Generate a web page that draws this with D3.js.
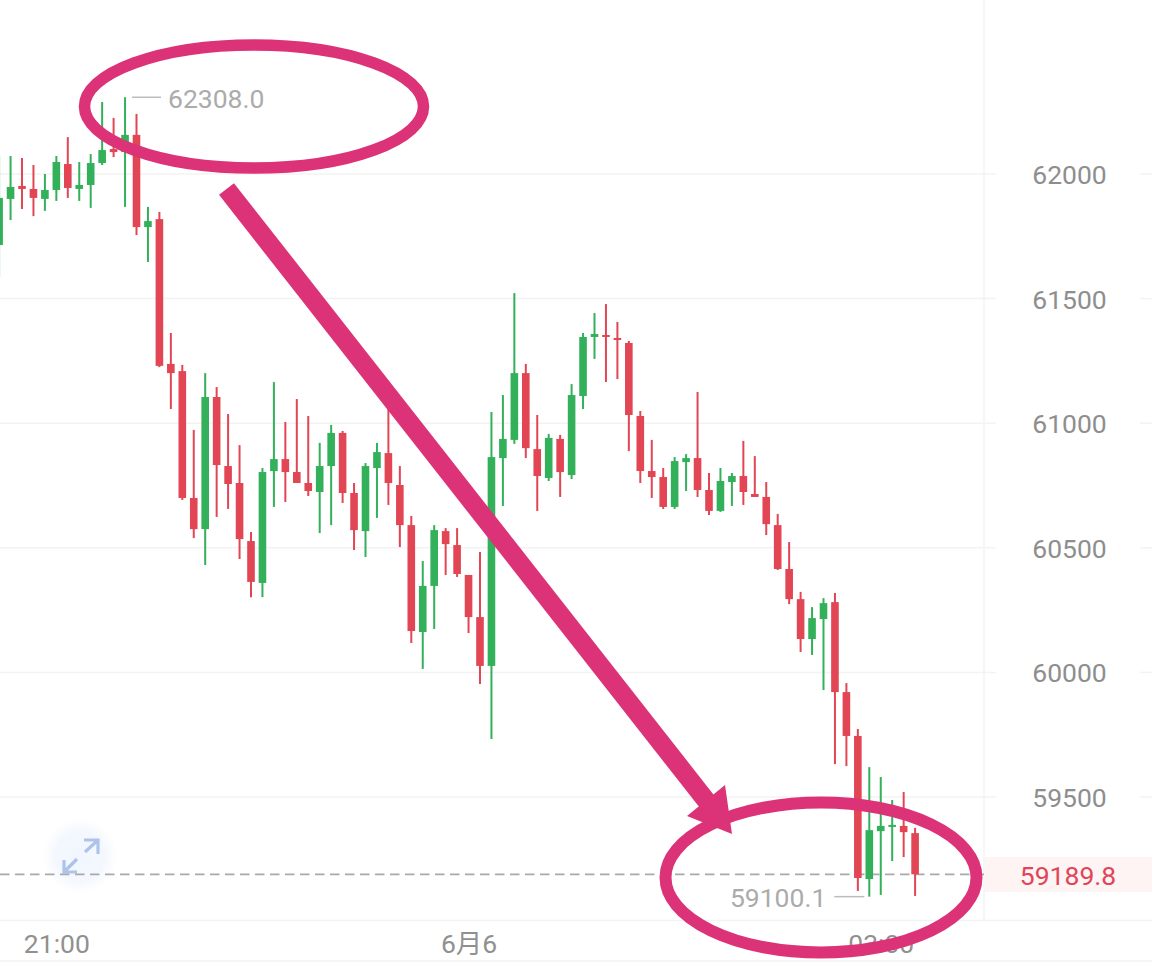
<!DOCTYPE html>
<html lang="zh">
<head>
<meta charset="utf-8">
<title>5分钟K线</title>
<script src="https://cdn.jsdelivr.net/npm/d3@7/dist/d3.min.js"></script>
<style>
  html, body { margin: 0; padding: 0; background: #fff; }
  svg { display: block; }
  text { font-family: Roboto, "Noto Sans CJK SC", sans-serif; }
</style>
</head>
<body>
<svg id="chart" width="1152" height="962"></svg>
<script>
// Five-minute candles, oldest first
const opens = [61715,61900,61952,61940,61900,61936,62040,61940,61956,62044,62100,62088,62157,61787,61819,61238,61209,60700,60575,61105,60828,60760,60527,60359,60808,60856,60804,60760,60724,60828,60961,60720,60567,60820,60880,60752,60591,60162,60347,60567,60511,60391,60222,60026,60860,60933,61201,60896,60780,60937,60792,61109,61346,61354,61342,61322,61029,60808,60784,60664,60844,60860,60732,60648,60764,60788,60716,60704,60591,60415,60294,60134,60214,60282,59921,59745,59171,59363,59384,59384,59355];
const highs = [62072,62072,62064,62036,62000,62072,62148,62048,62080,62289,62225,62308,62241,61868,61848,61362,61234,60973,61201,61145,61037,60912,60563,60820,61165,61005,61097,61029,60921,60993,60969,60760,60840,60921,61061,60828,60628,60447,60591,60579,60579,60391,60483,61045,61113,61522,61238,61033,60957,60953,61157,61362,61442,61478,61406,61330,61049,60933,60820,60864,60876,61125,60800,60820,60800,60929,60868,60764,60636,60523,60323,60262,60298,60319,59957,59773,59620,59580,59488,59520,59376];
const lows = [61587,61815,61860,61831,61852,61892,61904,61892,61864,62036,62068,61868,61755,61647,61225,61057,60692,60539,60431,60624,60656,60455,60302,60302,60664,60684,60760,60708,60559,60591,60680,60491,60463,60620,60672,60503,60118,60014,60174,60391,60383,60158,59953,59733,60668,60917,60860,60648,60768,60704,60776,61057,61258,61165,61177,60888,60760,60700,60656,60656,60728,60704,60632,60644,60668,60672,60704,60551,60411,60274,60082,60070,59929,59632,59624,59123,59100.1,59107,59243,59259,59103];
const closes = [61904,61948,61940,61904,61936,62048,61944,61956,62044,62096,62088,62157,61787,61811,61230,61201,60700,60575,61105,60832,60756,60535,60363,60804,60856,60804,60760,60728,60828,60961,60720,60571,60828,60884,60760,60591,60166,60347,60571,60515,60395,60222,60026,60864,60937,61201,60900,60788,60941,60804,61113,61346,61358,61346,61334,61033,60808,60784,60664,60848,60860,60732,60648,60768,60788,60724,60704,60595,60415,60294,60134,60218,60278,59921,59745,59175,59367,59384,59388,59359,59189.8];

const priceTicks = [62000, 61500, 61000, 60500, 60000, 59500];
const timeTicks = [new Date(2024, 5, 5, 21, 0), new Date(2024, 5, 6, 0, 0), new Date(2024, 5, 6, 3, 0)];
const timeTickLabels = ["21:00", "6月6", "03:00"];
const firstCandle = new Date(2024, 5, 5, 20, 35);
const candleMinutes = 5;
const lastPrice = 59189.8;
const periodHigh = 62308.0;
const periodLow = 59100.1;

const times = opens.map((_, i) => d3.timeMinute.offset(firstCandle, i * candleMinutes));
const candles = times.map((t, i) => ({ t, o: opens[i], h: highs[i], l: lows[i], c: closes[i] }));

const RED = "#e24553", GREEN = "#33b05a", PINK = "#dc3378";
const FONT = 26.5;
const plotRight = 984;

const x = d3.scaleTime().domain([firstCandle, times[times.length - 1]]).range([-0.9, 915.1]);
const y = d3.scaleLinear().domain([62000, 59500]).range([174, 797]);

const svg = d3.select("#chart");

// Grid: horizontal rules stop short of the price labels and resume after them
const grid = svg.append("g").attr("stroke", "#f3f3f3").attr("stroke-width", 1.5);
grid.selectAll("line.left").data(priceTicks).join("line").attr("class", "left")
  .attr("x1", 0).attr("x2", 996).attr("y1", d => y(d)).attr("y2", d => y(d));
grid.selectAll("line.right").data(priceTicks).join("line").attr("class", "right")
  .attr("x1", 1140).attr("x2", 1152).attr("y1", d => y(d)).attr("y2", d => y(d));
grid.append("line").attr("x1", plotRight).attr("x2", plotRight).attr("y1", 0).attr("y2", 920);
grid.append("line").attr("x1", 0).attr("x2", 1152).attr("y1", 920.5).attr("y2", 920.5);
grid.append("line").attr("x1", 0).attr("x2", 1152).attr("y1", 961).attr("y2", 961);

// Band behind the latest price
svg.append("rect").attr("x", plotRight + 1).attr("width", 1152 - plotRight - 1)
  .attr("y", y(lastPrice) - 17.5).attr("height", 35).attr("fill", "#fdf4f3");

// Expand control
const glowDef = svg.append("defs").append("radialGradient").attr("id", "expandGlow");
glowDef.append("stop").attr("offset", "0%").attr("stop-color", "#f1f6fe");
glowDef.append("stop").attr("offset", "65%").attr("stop-color", "#f4f8fe");
glowDef.append("stop").attr("offset", "100%").attr("stop-color", "#ffffff");
const expand = svg.append("g").attr("transform", "translate(80,856)");
expand.append("circle").attr("r", 38).attr("fill", "url(#expandGlow)");
expand.append("path").attr("fill", "none").attr("stroke", "#aec3ea").attr("stroke-width", 3.2)
  .attr("d", "M5,-4L17,-15M4,-16H18V-2M-3,3L-15,15M-16,4V16H-3");

// Latest price line
svg.append("line").attr("x1", 0).attr("x2", plotRight).attr("y1", y(lastPrice)).attr("y2", y(lastPrice))
  .attr("stroke", "#a9a9a9").attr("stroke-width", 1.8).attr("stroke-dasharray", "9.5,5.5");

// Candles
const bodyWidth = 7.6;
const candle = svg.append("g").selectAll("g").data(candles).join("g")
  .attr("fill", d => d.c >= d.o ? GREEN : RED)
  .attr("stroke", d => d.c >= d.o ? GREEN : RED);
candle.append("line").attr("stroke-width", 2)
  .attr("x1", d => x(d.t)).attr("x2", d => x(d.t))
  .attr("y1", d => y(d.h)).attr("y2", d => y(d.l));
candle.append("rect").attr("stroke", "none")
  .attr("x", d => x(d.t) - bodyWidth / 2).attr("width", bodyWidth)
  .attr("y", d => y(Math.max(d.o, d.c)))
  .attr("height", d => Math.max(2, Math.abs(y(d.o) - y(d.c))));

// Axes
const yAxis = d3.axisRight(y).tickValues(priceTicks).tickSize(0).tickPadding(0).tickFormat(d3.format("d"));
const yG = svg.append("g").attr("transform", "translate(1069.5,0)").call(yAxis);
yG.select(".domain").remove();
yG.selectAll("text").attr("text-anchor", "middle").attr("fill", "#8e8e8e")
  .attr("font-size", FONT).attr("font-family", null).attr("dy", "0.36em");

const xAxis = d3.axisBottom(x).tickValues(timeTicks).tickSize(0).tickPadding(0)
  .tickFormat((d, i) => timeTickLabels[i]);
const xG = svg.append("g").attr("transform", "translate(0,943)").call(xAxis);
xG.select(".domain").remove();
xG.selectAll("text").attr("fill", "#909090").attr("font-size", FONT).attr("font-family", null)
  .attr("y", 0).attr("dy", "0.36em");

// Latest price label
svg.append("text").attr("x", 1068).attr("y", y(lastPrice) + 1).attr("dy", "0.36em")
  .attr("text-anchor", "middle").attr("font-size", FONT).attr("fill", "#e0455a")
  .text(d3.format(".1f")(lastPrice));

// High and low callouts with leader lines
const highCandle = candles.find(d => d.h === periodHigh);
const lowCandle = candles.find(d => d.l === periodLow);
const callouts = [
  { value: periodHigh, x1: x(highCandle.t) + 7, x2: x(highCandle.t) + 36, tx: x(highCandle.t) + 43, anchor: "start" },
  { value: periodLow, x1: x(lowCandle.t) - 35, x2: x(lowCandle.t) - 5, tx: x(lowCandle.t) - 43, anchor: "end" }
];
const callout = svg.append("g").selectAll("g").data(callouts).join("g");
callout.append("line").attr("stroke", "#bdbdbd").attr("stroke-width", 1.5)
  .attr("x1", d => d.x1).attr("x2", d => d.x2).attr("y1", d => y(d.value)).attr("y2", d => y(d.value));
callout.append("text").attr("x", d => d.tx).attr("y", d => y(d.value) + 1).attr("dy", "0.36em")
  .attr("text-anchor", d => d.anchor).attr("font-size", FONT).attr("fill", "#ababab")
  .text(d => d3.format(".1f")(d.value));

// Hand-drawn style annotations: two rings and the arrow joining them
const ink = svg.append("g");
ink.append("ellipse").attr("cx", 254).attr("cy", 106.5).attr("rx", 169.5).attr("ry", 61.5)
  .attr("fill", "none").attr("stroke", PINK).attr("stroke-width", 11.5);
ink.append("ellipse").attr("cx", 821).attr("cy", 877.5).attr("rx", 155.5).attr("ry", 75)
  .attr("fill", "none").attr("stroke", PINK).attr("stroke-width", 12);
ink.append("line").attr("x1", 226.5).attr("y1", 189).attr("x2", 712).attr("y2", 808)
  .attr("stroke", PINK).attr("stroke-width", 19);
ink.append("polygon").attr("points", "725,785 732,834 687,816").attr("fill", PINK);
</script>
</body>
</html>
